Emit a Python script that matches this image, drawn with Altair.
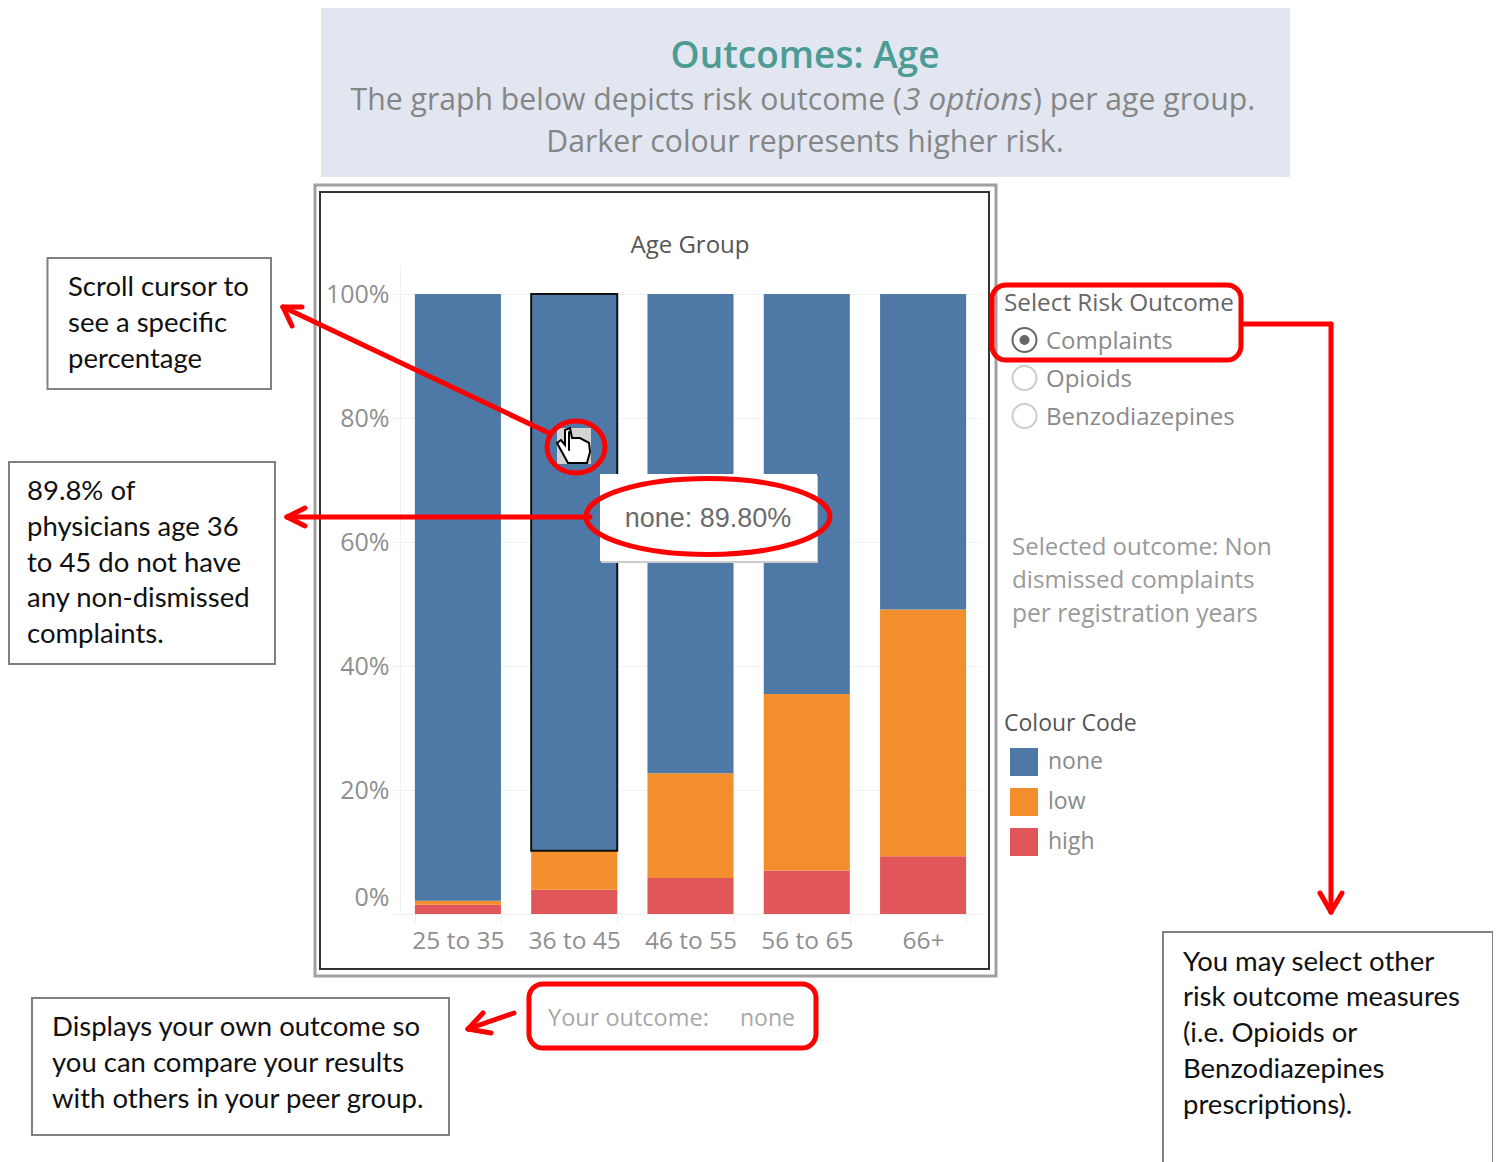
import altair as alt
import pandas as pd

AGE_GROUPS = ["25 to 35", "36 to 45", "46 to 55", "56 to 65", "66+"]
RISK_LEVELS = ["none", "low", "high"]
RISK_COLOURS = ["#4e79a7", "#f28e2b", "#e15759"]
NONE_PCT = [97.85, 89.8, 77.3, 64.5, 50.9]
LOW_PCT = [0.65, 6.3, 16.9, 28.5, 39.8]
HIGH_PCT = [1.5, 3.9, 5.8, 7.0, 9.3]
Y_TICKS = [0, 20, 40, 60, 80, 100]

BOX_TEXT_1 = ["Scroll cursor to", "see a specific", "percentage"]
BOX_TEXT_2 = ["89.8% of", "physicians age 36", "to 45 do not have", "any non-dismissed", "complaints."]
BOX_TEXT_3 = ["Displays your own outcome so", "you can compare your results", "with others in your peer group."]
BOX_TEXT_4 = ["You may select other", "risk outcome measures", "(i.e. Opioids or", "Benzodiazepines", "prescriptions)."]
SELECTED_TEXT = ["Selected outcome: Non", "dismissed complaints", "per registration years"]
RADIO_OPTIONS = ["Complaints", "Opioids", "Benzodiazepines"]

PLOT_L, PLOT_T, PLOT_W, PLOT_H = 400, 265, 581, 649
RED = "#fe0000"
NOTE_FONT = "Lato"
UI_FONT = "Open Sans"

rows = []
for i, g in enumerate(AGE_GROUPS):
    base = 0.0
    for risk, vals in (("high", HIGH_PCT), ("low", LOW_PCT), ("none", NONE_PCT)):
        rows.append({"group": g, "risk": risk, "pct": vals[i], "y0": base, "y1": base + vals[i]})
        base += vals[i]
df = pd.DataFrame(rows)
one = pd.DataFrame({"a": [0]})


def px(x):
    return x - PLOT_L


def py(y):
    return y - PLOT_T


def text(s, x, y, size, color, font=UI_FONT, align="left", style="normal", weight="normal"):
    return alt.Chart(one).mark_text(
        align=align, baseline="middle", fontSize=size, color=color, font=font,
        fontStyle=style, fontWeight=weight,
    ).encode(x=alt.value(px(x)), y=alt.value(py(y)), text=alt.value(s))


def line(x1, y1, x2, y2, color=RED, width=5):
    return alt.Chart(one).mark_rule(color=color, strokeWidth=width, strokeCap="round").encode(
        x=alt.value(px(x1)), y=alt.value(py(y1)), x2=alt.value(px(x2)), y2=alt.value(py(y2)))


def box(x1, y1, x2, y2, stroke=None, width=2, fill=None, radius=0):
    kw = {}
    if fill:
        kw["fill"] = fill
    else:
        kw["fillOpacity"] = 0
        kw["fill"] = "#ffffff"
    if stroke:
        kw["stroke"] = stroke
        kw["strokeWidth"] = width
    if radius:
        kw["cornerRadius"] = radius
    return alt.Chart(one).mark_rect(**kw).encode(
        x=alt.value(px(x1)), y=alt.value(py(y1)), x2=alt.value(px(x2)), y2=alt.value(py(y2)))


def ellipse(cx, cy, rx, ry, color=RED, width=5):
    r = ry / rx
    path = f"M -1 0 A 1 {r:.4f} 0 1 1 1 0 A 1 {r:.4f} 0 1 1 -1 0 Z"
    return alt.Chart(one).mark_point(
        shape=path, size=(2 * rx) ** 2, filled=False, stroke=color, strokeWidth=width, opacity=1
    ).encode(x=alt.value(px(cx)), y=alt.value(py(cy)))


def radio(cx, cy, d, stroke, fill="#ffffff"):
    return alt.Chart(one).mark_point(
        shape="circle", size=d ** 2, filled=True, fill=fill, stroke=stroke, strokeWidth=2, opacity=1
    ).encode(x=alt.value(px(cx)), y=alt.value(py(cy)))


def hand():
    pts = [(568, 463), (557, 443), (561, 440), (565, 445), (565, 430), (570, 428), (572, 438),
           (580, 438), (589, 443), (590, 452), (587, 463)]
    cx, cy, half = 574, 446, 18
    path = "M " + " L ".join(f"{(x - cx) / half:.3f} {(y - cy) / half:.3f}" for x, y in pts) + " Z"
    return alt.Chart(one).mark_point(
        shape=path, size=(2 * half) ** 2, filled=True, fill="#ffffff", stroke="#000000",
        strokeWidth=2, opacity=1
    ).encode(x=alt.value(px(cx)), y=alt.value(py(cy)))


x_enc = alt.X(
    "group:N", sort=AGE_GROUPS,
    scale=alt.Scale(domain=AGE_GROUPS, paddingInner=0.26, paddingOuter=0.128),
    axis=alt.Axis(
        title=None, labelAngle=0, tickBand="extent", domainColor="#f0f0f0", tickColor="#f0f0f0",
        tickSize=9, labelPadding=6, labelFont=UI_FONT, labelFontSize=24.5, labelColor="#8f8f8f",
        grid=False,
    ),
)
y_enc = alt.Y(
    "y0:Q",
    scale=alt.Scale(domain=[0, 104.68], nice=False),
    axis=alt.Axis(
        title=None, values=Y_TICKS, labelExpr="datum.value + '%'", gridColor="#f2f2f2",
        domainColor="#f0f0f0", domain=True, tickColor="#f0f0f0", tickSize=9, labelPadding=2,
        labelFont=UI_FONT, labelFontSize=25, labelColor="#8f8f8f",
        labelOffset={"condition": {"test": "datum.value === 0", "value": -17}, "value": 0},
    ),
)

bars = alt.Chart(df).mark_bar().encode(
    x=x_enc, y=y_enc, y2="y1:Q",
    color=alt.Color(
        "risk:N",
        scale=alt.Scale(domain=RISK_LEVELS, range=RISK_COLOURS),
        legend=alt.Legend(
            title="Colour Code", orient="none", legendX=px(1004), legendY=py(713),
            symbolType="square", symbolSize=784, symbolStrokeWidth=0, symbolOpacity=1,
            symbolOffset=6,
            titleFont=UI_FONT, titleFontSize=23, titleColor="#555555", titleFontWeight="normal",
            titlePadding=12, labelFont=UI_FONT, labelFontSize=23, labelColor="#8a8a8a",
            rowPadding=12, labelOffset=10,
        ),
    ),
)

highlight = alt.Chart(df).transform_filter(
    "datum.group === '36 to 45' && datum.risk === 'none'"
).mark_bar(fillOpacity=0, stroke="#111111", strokeWidth=2).encode(
    x=alt.X("group:N", sort=AGE_GROUPS), y=alt.Y("y0:Q"), y2="y1:Q")

layers = [
    # dashboard frame
    box(315, 185, 996, 976, stroke="#a0a0a0", width=3),
    box(320, 192, 989, 969, stroke="#333333", width=2),
    bars,
    highlight,
    # header banner
    box(321, 7, 1290, 177, fill="#e1e6f0"),
    text("Outcomes: Age", 805, 57, 37, "#4c9c94", align="center", weight=600),
    text("The graph below depicts risk outcome (", 902, 101, 30.2, "#868686", align="right"),
    text("3 options", 903, 101, 31.5, "#868686", style="italic"),
    text(") per age group.", 1033, 101, 30.2, "#868686"),
    text("Darker colour represents higher risk.", 805, 143, 30.2, "#868686", align="center"),
    text("Age Group", 690, 246, 24, "#555555", align="center"),
    # radio filter
    text("Select Risk Outcome", 1004, 304, 24.3, "#666666"),
    radio(1024.5, 340, 24, "#666666"),
    radio(1024.5, 340, 8, "#666666", fill="#666666"),
    radio(1024.5, 378, 24, "#cccccc"),
    radio(1024.5, 416, 24, "#cccccc"),
    text(RADIO_OPTIONS[0], 1046, 342, 24, "#8a8a8a"),
    text(RADIO_OPTIONS[1], 1046, 380, 24, "#8a8a8a"),
    text(RADIO_OPTIONS[2], 1046, 418, 24, "#8a8a8a"),
    text(SELECTED_TEXT[0], 1012, 548, 24, "#9a9a9a"),
    text(SELECTED_TEXT[1], 1012, 581, 24.2, "#9a9a9a"),
    text(SELECTED_TEXT[2], 1012, 615, 24.6, "#9a9a9a"),
    # tooltip
    box(601, 476, 818, 563, fill="#cccccc"),
    box(600, 474, 817, 561, fill="#ffffff"),
    text("none: 89.80%", 708, 519, 27, "#6b6b6b", font="Liberation Sans", align="center"),
    # cursor
    box(557, 428, 591, 464, fill="#d3d3d3"),
    hand(),
    line(569, 432, 569, 450, color="#000000", width=2),
    # callout boxes
    box(47.5, 258, 271, 389, stroke="#808080"),
    box(9, 462, 275, 664, stroke="#808080"),
    box(32, 998, 449, 1135, stroke="#808080"),
    box(1163, 932, 1493, 1180, stroke="#808080"),
]
for s, y in zip(BOX_TEXT_1, [288, 324, 360]):
    layers.append(text(s, 68, y, 27.5, "#111111", font=NOTE_FONT))
for s, y in zip(BOX_TEXT_2, [492, 528, 564, 599, 635]):
    layers.append(text(s, 27, y, 27.5, "#111111", font=NOTE_FONT))
for s, y in zip(BOX_TEXT_3, [1028, 1064, 1100]):
    layers.append(text(s, 52, y, 27.5, "#111111", font=NOTE_FONT))
for s, y in zip(BOX_TEXT_4, [963, 998, 1034, 1070, 1106]):
    layers.append(text(s, 1183, y, 27.5, "#111111", font=NOTE_FONT))

layers += [
    # your outcome
    text("Your outcome:", 548, 1019, 23.5, "#a8a8a8"),
    text("none", 740, 1019, 23, "#a8a8a8"),
    box(529, 984, 816, 1048, stroke=RED, width=5, radius=14),
    # red outlines
    box(992, 285, 1241, 360, stroke=RED, width=5, radius=14),
    ellipse(576, 447, 29, 26),
    ellipse(708, 516.5, 122, 38),
    # arrows
    line(551, 434, 283, 307),
    line(283, 307, 302, 307),
    line(283, 307, 292, 326),
    line(590, 517, 287, 517),
    line(287, 517, 305, 508),
    line(287, 517, 305, 526),
    line(1243, 324, 1331, 324),
    line(1331, 324, 1331, 912),
    line(1331, 912, 1320, 893),
    line(1331, 912, 1342, 893),
    line(514, 1013, 468, 1029),
    line(468, 1029, 483, 1013),
    line(468, 1029, 491, 1033),
]

chart = alt.layer(*layers).properties(
    width=PLOT_W,
    height=PLOT_H,
    padding={"left": PLOT_L - 8, "top": PLOT_T - 8, "right": 1485 - (PLOT_L - 8) - PLOT_W,
             "bottom": 1154 - (PLOT_T - 8) - PLOT_H},
    autosize=alt.AutoSizeParams(type="none"),
    background="#ffffff",
).configure_view(stroke=None)

chart.save("out.html", embed_options={"renderer": "svg", "actions": False})
